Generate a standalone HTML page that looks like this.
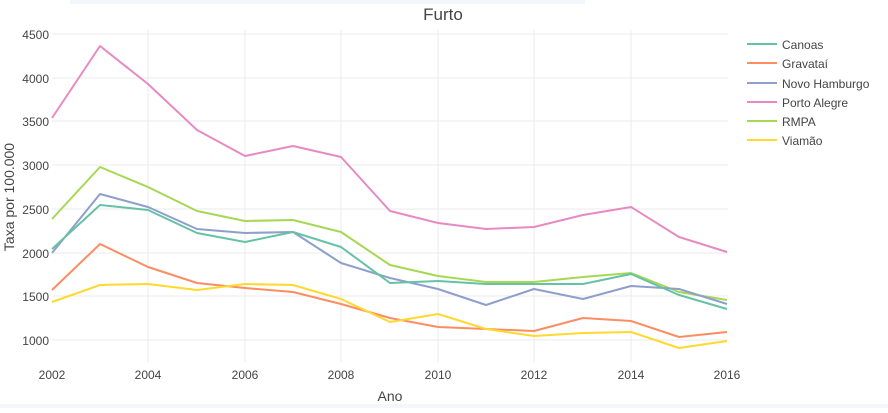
<!DOCTYPE html>
<html><head><meta charset="utf-8"><style>
body{margin:0;background:#fff;width:888px;height:408px;overflow:hidden}
text{font-family:"Liberation Sans",sans-serif;fill:#444}
</style></head><body>
<svg width="888" height="408" xmlns="http://www.w3.org/2000/svg">
<rect x="70" y="0" width="515" height="4" fill="#f3f6fa"/>
<rect x="0" y="404" width="888" height="4" fill="#f3f6fa"/>
<g stroke="#ebebeb" stroke-width="1">
<line x1="52" x2="728" y1="34" y2="34"/><line x1="52" x2="728" y1="78" y2="78"/>
<line x1="52" x2="728" y1="121" y2="121"/><line x1="52" x2="728" y1="165" y2="165"/>
<line x1="52" x2="728" y1="209" y2="209"/><line x1="52" x2="728" y1="253" y2="253"/>
<line x1="52" x2="728" y1="296" y2="296"/><line x1="52" x2="728" y1="340" y2="340"/>
<line x1="148" x2="148" y1="30" y2="362"/><line x1="245" x2="245" y1="30" y2="362"/>
<line x1="341" x2="341" y1="30" y2="362"/><line x1="438" x2="438" y1="30" y2="362"/>
<line x1="534" x2="534" y1="30" y2="362"/><line x1="631" x2="631" y1="30" y2="362"/>
</g>
<g font-size="12" text-anchor="end">
<text x="49" y="39">4500</text><text x="49" y="83">4000</text><text x="49" y="126">3500</text>
<text x="49" y="170">3000</text><text x="49" y="214">2500</text><text x="49" y="258">2000</text>
<text x="49" y="301">1500</text><text x="49" y="345">1000</text>
</g>
<g font-size="12" text-anchor="middle">
<text x="52" y="379">2002</text><text x="148" y="379">2004</text><text x="245" y="379">2006</text>
<text x="341" y="379">2008</text><text x="438" y="379">2010</text><text x="534" y="379">2012</text>
<text x="631" y="379">2014</text><text x="727" y="379">2016</text>
</g>
<text x="443" y="20" font-size="17" text-anchor="middle">Furto</text>
<text x="390" y="401" font-size="14" text-anchor="middle">Ano</text>
<text transform="translate(14,197) rotate(-90)" font-size="14" text-anchor="middle">Taxa por 100.000</text>
<g fill="none" stroke-width="2" stroke-linejoin="round">
<polyline stroke="#e78ac3" points="52,118 100,46 148,84 197,130 245,156 293,146 341,157 390,211 438,223 486,229 534,227 583,215 631,207 679,237 727,252"/>
<polyline stroke="#a6d854" points="52,219 100,167 148,187 197,211 245,221 293,220 341,232 390,265 438,276 486,282 534,282 583,277 631,273 679,292 727,300"/>
<polyline stroke="#8da0cb" points="52,253 100,194 148,207 197,229 245,233 293,232 341,263 390,278 438,289 486,305 534,289 583,299 631,286 679,289 727,304"/>
<polyline stroke="#66c2a5" points="52,249 100,205 148,210 197,233 245,242 293,232 341,247 390,283 438,281 486,284 534,284 583,284 631,274 679,295 727,309"/>
<polyline stroke="#fc8d62" points="52,290 100,244 148,267 197,283 245,288 293,292 341,304 390,318 438,327 486,329 534,331 583,318 631,321 679,337 727,332"/>
<polyline stroke="#ffd92f" points="52,302 100,285 148,284 197,290 245,284 293,285 341,299 390,322 438,314 486,329 534,336 583,333 631,332 679,348 727,341"/>
</g>
<g stroke-width="2">
<line x1="747" x2="777" y1="44" y2="44" stroke="#66c2a5"/>
<line x1="747" x2="777" y1="63" y2="63" stroke="#fc8d62"/>
<line x1="747" x2="777" y1="83" y2="83" stroke="#8da0cb"/>
<line x1="747" x2="777" y1="102" y2="102" stroke="#e78ac3"/>
<line x1="747" x2="777" y1="121" y2="121" stroke="#a6d854"/>
<line x1="747" x2="777" y1="140" y2="140" stroke="#ffd92f"/>
</g>
<g font-size="12">
<text x="782" y="49">Canoas</text><text x="782" y="68">Gravataí</text>
<text x="782" y="88">Novo Hamburgo</text><text x="782" y="107">Porto Alegre</text>
<text x="782" y="126">RMPA</text><text x="782" y="145">Viamão</text>
</g>
</svg>
</body></html>
